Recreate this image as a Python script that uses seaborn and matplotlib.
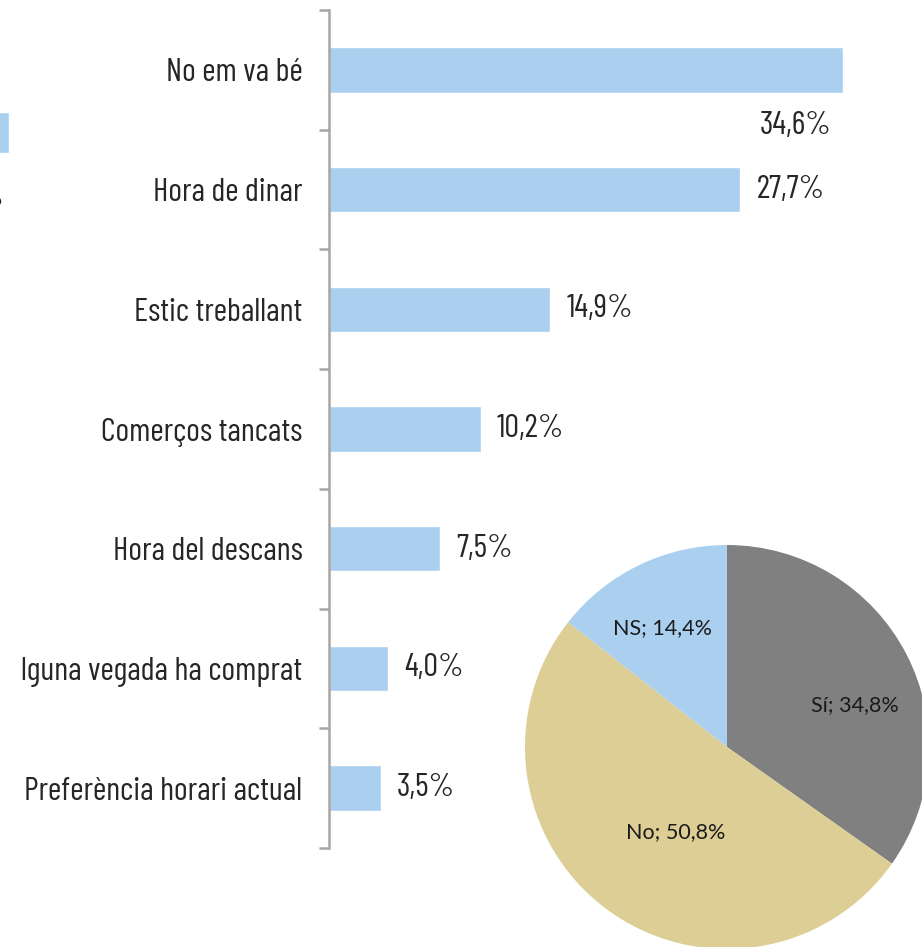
import matplotlib
matplotlib.use("Agg")
import matplotlib.pyplot as plt
import matplotlib.font_manager as fm
from matplotlib.textpath import TextPath
import seaborn as sns
import pandas as pd

# ---- data ----
categories = ["No em va bé", "Hora de dinar", "Estic treballant", "Comerços tancats",
              "Hora del descans", "lguna vegada ha comprat", "Preferència horari actual"]
values = [34.6, 27.7, 14.9, 10.2, 7.5, 4.0, 3.5]
value_labels = ["34,6%", "27,7%", "14,9%", "10,2%", "7,5%", "4,0%", "3,5%"]

pie_labels = ["Sí", "No", "NS"]
pie_values = [34.8, 50.8, 14.4]
pie_texts = ["Sí; 34,8%", "No; 50,8%", "NS; 14,4%"]

fragment_value = [1.0]

BLUE = "#ABCFEF"
GRAY = "#808080"
TAN = "#DDCE96"
AXIS = "#A6A6A6"
TXT = "#262626"

sns.set_theme(style="white")
plt.rcParams["font.family"] = ["DejaVu Sans"]


# ---- pick a condensed sans font if one is installed ----
def pick_font():
    target = 147.0 / 27.0  # width of "Hora de dinar" / cap height in the reference
    cands = []
    for f in fm.fontManager.ttflist:
        n = (f.name + " " + f.fname).lower()
        if f.style != "normal" or "cjk" in n or "mono" in n or "serif" in n.replace("sans-serif", ""):
            continue
        if not n.endswith((".ttf", ".otf")):
            continue
        if ("narrow" in n or "condensed" in n or "cond" in n
                or str(f.stretch) not in ("normal", "500")):
            if "bold" in n or "light" in n or "thin" in n or "black" in n or "medium" in n:
                continue
            cands.append(f.fname)
    cands = sorted(set(cands))[:12]
    best = None
    for fname in cands:
        try:
            fp = fm.FontProperties(fname=fname)
            cap = TextPath((0, 0), "H", size=100, prop=fp).get_extents().height
            wid = TextPath((0, 0), "Hora de dinar", size=100, prop=fp).get_extents().width
        except Exception:
            continue
        if cap <= 0:
            continue
        score = abs(wid / cap - target)
        if best is None or score < best[0]:
            best = (score, fname, wid)
    return best


best = pick_font()
if best is None:
    LABEL_FP = fm.FontProperties(family="DejaVu Sans")
    wid100 = TextPath((0, 0), "Hora de dinar", size=100, prop=LABEL_FP).get_extents().width
else:
    LABEL_FP = fm.FontProperties(fname=best[1])
    wid100 = best[2]
# size (points) so that "Hora de dinar" is ~147 px wide at 100 dpi
LABEL_SIZE = 147.0 / (wid100 / 100.0) * 72.0 / 100.0


def lfp():
    p = LABEL_FP.copy()
    p.set_size(LABEL_SIZE)
    return p


W, H = 922, 947
fig = plt.figure(figsize=(W / 100, H / 100), dpi=100)

# ---- bar chart ----
x0, ytop, ybot = 329, 10, 848
ppu = (843 - 329) / 34.6
xright = 912
ax = fig.add_axes([x0 / W, 1 - ybot / H, (xright - x0) / W, (ybot - ytop) / H])
df = pd.DataFrame({"cat": categories, "val": values})
sns.barplot(data=df, x="val", y="cat", orient="h", color=BLUE, width=0.38,
            saturation=1, ax=ax)
ax.set_xlim(0, (xright - x0) / ppu)
ax.set_ylim(len(categories) - 0.5, -0.5)
ax.set_xlabel("")
ax.set_ylabel("")
for s in ["top", "right", "bottom"]:
    ax.spines[s].set_visible(False)
ax.spines["left"].set_color(AXIS)
ax.spines["left"].set_linewidth(1.8)
ax.set_xticks([])
ax.set_yticks(range(len(categories)))
ax.set_yticklabels(categories, color=TXT, fontproperties=lfp())
ax.tick_params(axis="y", which="major", length=0, pad=19)
ax.set_yticks([i - 0.5 for i in range(len(categories) + 1)], minor=True)
ax.tick_params(axis="y", which="minor", length=7, width=1.8, color=AXIS,
               direction="out", left=True)

xmax = ax.get_xlim()[1]
for i, (v, lab) in enumerate(zip(values, value_labels)):
    if v + 6 > xmax:
        ax.text(v - 3.2, i + 0.47, lab, ha="center", va="center", color=TXT,
                fontproperties=lfp())
    else:
        ax.text(v + 1.08, i, lab, ha="left", va="center", color=TXT,
                fontproperties=lfp())

# ---- fragment of a neighbouring chart at the left edge ----
axf = fig.add_axes([-0.2, 1 - 153 / H, 0.2 + 9 / W, 41 / H])
axf.barh([0], fragment_value, height=1.0, color=BLUE)
axf.set_xlim(0, 1)
axf.set_ylim(-0.5, 0.5)
axf.axis("off")
fig.text(3 / W, 1 - 198 / H, "%", ha="right", va="center", color=TXT,
         fontproperties=lfp())

# ---- pie ----
cx, cy, r = 727, 747, 202
axp = fig.add_axes([(cx - r) / W, 1 - (cy + r) / H, 2 * r / W, 2 * r / H])
axp.pie(pie_values, colors=[GRAY, TAN, BLUE], startangle=90, counterclock=False,
        radius=1, wedgeprops=dict(linewidth=0))
axp.set_xlim(-1, 1)
axp.set_ylim(-1, 1)
axp.set_aspect("equal")
label_pos = [(0.634, 0.208), (-0.252, -0.421), (-0.317, 0.589)]
for (lx, ly), t in zip(label_pos, pie_texts):
    axp.text(lx, ly, t, ha="center", va="center", fontsize=15.5, color="#1a1a1a",
             family=["Lato", "DejaVu Sans"])

fig.savefig("out.png", dpi=100, facecolor="white")
